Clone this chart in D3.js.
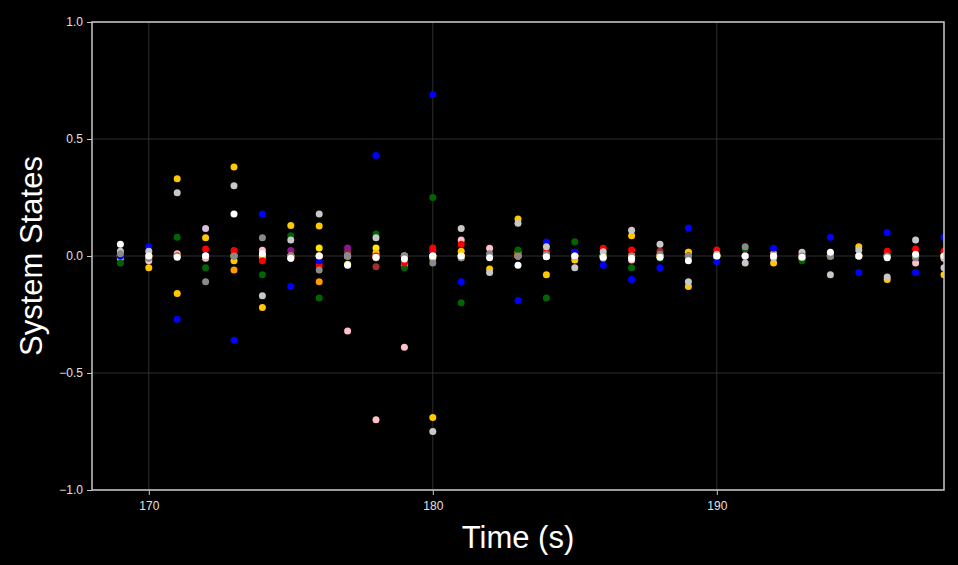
<!DOCTYPE html>
<html>
<head>
<meta charset="utf-8">
<script src="https://cdn.jsdelivr.net/npm/d3@7"></script>
<style>
  html, body { margin: 0; padding: 0; background: #000; }
  svg { display: block; }
</style>
</head>
<body>
<svg id="chart" width="958" height="565"></svg>
<script>
// ---- data (t = 169 .. 198) ----
const times = d3.range(169, 199);
const xTicks = [170, 180, 190];
const yTicks = [-1, -0.5, 0, 0.5, 1];

const thistle = [0,0,0,0.118,0,0,0,0,0,0,0,0,0,0,0,0,0,0,0,0,0,0,0,0,0,0,0,0,0,0];
const pink    = [0,-0.02,0.01,-0.01,0,0.025,-0.01,0,-0.32,-0.70,-0.39,0,0.068,0.033,0,0,0,0,-0.017,0,0,0,0,0.01,0,0,0,0,-0.03,-0.01];
const brown   = [0,0,0,0,0,0,0,0,0.017,-0.046,0,0,0,0,0,0,0,0,0,0.02,0,0,0,0,0,0,0,0,0,0];
const purple  = [0,0,0,0,0,0,0.023,0,0.034,0,0,0.02,0,0,0,0,0.016,0,0,0,0,0,0,0,0,0,0,0,0,0];
const orange  = [0,0,0,0,-0.06,0,0,-0.11,0,-0.007,0,0,-0.007,0,0,0,0,0,0,0,0.016,0,0,0,0,0,0,0,0,0];
const yellow  = [0,0,0,0,0,0,0,0.034,-0.035,0.034,-0.04,0,0,0,0.016,0,0,0,0,0,0,0,0,0,-0.01,0,0,0,0,0];
const gold2   = [0,0,-0.16,0,-0.02,0,0,0,0,0,0,-0.01,0,0,0,0,0,0,0,0,0.016,0,0,0,0,0,0,0,0,0];
const gold    = [-0.01,-0.05,0.33,0.078,0.38,-0.22,0.13,0.128,0,0.013,0,-0.69,0.02,-0.056,0.158,-0.08,-0.017,0,0.087,0,-0.13,0,0,-0.03,0,0,0.04,-0.10,0,-0.08];
const green   = [-0.03,0,0.08,-0.05,0,-0.08,0.087,-0.18,0,0.094,-0.05,0.25,-0.20,0,0.026,-0.18,0.061,0,-0.05,-0.01,0,0,0.03,0,-0.02,0,0,0,0,0];
const red     = [0,0,0,0.03,0.023,-0.02,0,-0.04,0,0,-0.03,0.034,0.05,0,0,0.02,0,0.033,0.026,0,0,0.026,0,0,0,0,0,0.02,0.03,0.02];
const blue    = [0,0.04,-0.27,0,-0.36,0.18,-0.13,-0.02,0,0.43,0,0.69,-0.11,0,-0.19,0.06,0.016,-0.04,-0.10,-0.05,0.12,-0.024,0,0.033,0,0.08,-0.07,0.10,-0.07,0.08];
const silver  = [0.02,0.02,0.27,0,0.30,-0.17,0.068,0.18,0,0.078,0,-0.75,0.118,-0.07,0.14,0.04,-0.05,0.018,0.11,0.05,-0.11,0.007,-0.03,-0.007,0.016,-0.08,0.026,-0.09,0.068,-0.05];
const gray    = [0.01,-0.01,0,-0.11,0,0.078,0,-0.06,0,-0.007,0,-0.03,-0.007,0.01,0,0.007,0,-0.01,0,0.007,0,0,0.04,0,0,0,0,0,-0.007,0];
const white   = [0.05,0,-0.005,0,0.18,0.01,-0.01,0,-0.04,-0.005,-0.013,0,0,-0.007,-0.04,-0.003,0,-0.005,-0.01,-0.005,-0.02,0,0,0,-0.005,0.016,0,-0.007,0.007,0];

const seriesNames  = ["thistle","pink","brown","purple","orange","yellow","gold2","gold","green","red","blue","silver","gray","white"];
const seriesValues = [thistle, pink, brown, purple, orange, yellow, gold2, gold, green, red, blue, silver, gray, white];
const seriesColors = ["#d8c0d8","#ffc0cb","#a0302a","#8a1a8a","#ff9a00","#ffe800","#ffc800","#ffc800","#006400","#ff0000","#0000ff","#c8c8c8","#8a8a8a","#ffffff"];

// ---- layout ----
const svg = d3.select("#chart");
const W = 958, H = 565;
const m = {left: 92, right: 14, top: 22, bottom: 75};
const pw = W - m.left - m.right, ph = H - m.top - m.bottom;

svg.append("rect").attr("width", W).attr("height", H).attr("fill", "#000");

const x = d3.scaleLinear().domain([168, 198]).range([m.left, m.left + pw]);
const y = d3.scaleLinear().domain([-1, 1]).range([m.top + ph, m.top]);

// grid
const grid = svg.append("g");
grid.selectAll("line.gx").data(xTicks).join("line")
  .attr("x1", d => x(d)).attr("x2", d => x(d))
  .attr("y1", m.top).attr("y2", m.top + ph)
  .attr("stroke", "#2e2e2e").attr("stroke-width", 1);
grid.selectAll("line.gy").data(yTicks).join("line")
  .attr("x1", m.left).attr("x2", m.left + pw)
  .attr("y1", d => y(d)).attr("y2", d => y(d))
  .attr("stroke", "#2e2e2e").attr("stroke-width", 1);

// points
const clip = svg.append("clipPath").attr("id", "clip")
  .append("rect").attr("x", m.left).attr("y", m.top).attr("width", pw).attr("height", ph);
const pts = svg.append("g").attr("clip-path", "url(#clip)");
seriesValues.forEach((vals, i) => {
  pts.append("g").selectAll("circle").data(vals).join("circle")
    .attr("cx", (d, j) => x(times[j]))
    .attr("cy", d => y(d))
    .attr("r", 3.5)
    .attr("fill", seriesColors[i]);
});

// frame
svg.append("rect").attr("x", m.left).attr("y", m.top).attr("width", pw).attr("height", ph)
  .attr("fill", "none").attr("stroke", "#c8c8c8").attr("stroke-width", 1.5);

// axes
const font = "'Liberation Sans', Arial, Helvetica, sans-serif";
const xAxis = svg.append("g").attr("transform", `translate(0,${m.top + ph})`)
  .call(d3.axisBottom(x).tickValues(xTicks).tickFormat(d3.format("d")).tickSize(5).tickPadding(6));
const yAxis = svg.append("g").attr("transform", `translate(${m.left},0)`)
  .call(d3.axisLeft(y).tickValues(yTicks).tickFormat(d3.format(".1f")).tickSize(5).tickPadding(4));
[xAxis, yAxis].forEach(a => {
  a.select(".domain").remove();
  a.selectAll(".tick line").attr("stroke", "#c8c8c8").attr("stroke-width", 1);
  a.selectAll(".tick text").attr("fill", "#e0e0e0").style("font-family", font).style("font-size", "12px");
});

svg.append("text").attr("x", x(183)).attr("y", 548)
  .attr("text-anchor", "middle").attr("fill", "#ffffff")
  .style("font-family", font).style("font-size", "31px").text("Time (s)");
svg.append("text").attr("transform", `translate(42,${y(0)}) rotate(-90)`)
  .attr("text-anchor", "middle").attr("fill", "#ffffff")
  .style("font-family", font).style("font-size", "31px").text("System States");
</script>
</body>
</html>
